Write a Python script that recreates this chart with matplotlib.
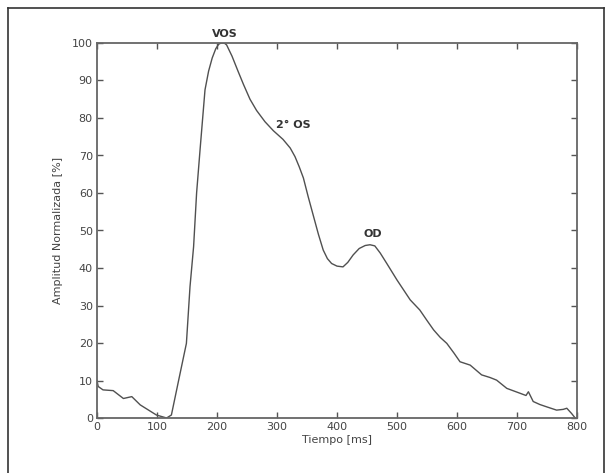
import matplotlib
matplotlib.use('agg')
import matplotlib.pyplot as plt
from matplotlib.lines import Line2D
import numpy as np

# Normalised amplitude curve
tiempo = [0, 2, 10, 27, 44, 58, 72, 99, 116, 124, 136, 149, 155, 161, 166, 172,
          180, 186, 192, 198, 203, 207, 212, 216, 225, 235, 244, 255, 266, 280,
          294, 310, 322, 330, 337, 344, 352, 361, 369, 377, 384, 391, 400, 410,
          418, 427, 437, 447, 455, 463, 472, 483, 500, 522, 538, 550, 561, 572,
          583, 595, 605, 622, 641, 655, 666, 683, 705, 715, 719, 727, 738, 749,
          766, 777, 783, 791, 797]
amplitud = [10, 8.4, 7.5, 7.3, 5.2, 5.7, 3.5, 0.8, 0.0, 0.8, 10, 19.9, 35, 45.7,
            60, 72, 87.5, 92.5, 96, 98.5, 99.7, 100, 100, 99.5, 96.5, 92.5, 89,
            85, 82, 79, 76.6, 74.3, 72, 69.7, 67, 64, 59, 53.7, 49, 44.8, 42.5,
            41.2, 40.5, 40.3, 41.5, 43.5, 45.2, 46, 46.2, 45.9, 44, 41.2, 36.8,
            31.5, 28.8, 26, 23.5, 21.5, 19.9, 17.3, 15, 14.1, 11.5, 10.8, 10.1,
            7.9, 6.6, 6.0, 7.0, 4.4, 3.6, 3.0, 2.1, 2.3, 2.6, 1.2, 0.0]

etiquetas = ['VOS', '2° OS', 'OD']
etiq_x = [213, 328, 460]
etiq_y = [102.5, 78, 49]

gris = '#555555'
plt.rcParams['font.family'] = ['DejaVu Sans']

fig = plt.figure(figsize=(6.13, 4.73), dpi=100)
ax = fig.add_axes([97/613, 55/473, 480/613, 375/473])

ax.plot(tiempo, amplitud, color='#505050', linewidth=1.0)

ax.set_xlim(0, 800)
ax.set_ylim(0, 100)
ax.set_xticks(np.arange(0, 801, 100))
ax.set_yticks(np.arange(0, 101, 10))
ax.tick_params(direction='in', top=True, right=True, length=4, width=1,
               labelsize=8, colors=gris, labelcolor='#444444', pad=3)
for s in ax.spines.values():
    s.set_color('#666666')
    s.set_linewidth(1.3)

ax.set_xlabel('Tiempo [ms]', fontsize=8, color='#444444', labelpad=2)
ax.set_ylabel('Amplitud Normalizada [%]', fontsize=8, color='#444444', labelpad=6)

for txt, tx, ty in zip(etiquetas, etiq_x, etiq_y):
    ax.text(tx, ty, txt, fontsize=8, fontweight='bold', color='#333333',
            ha='center', va='center', clip_on=False)

# outer frame (bottom edge falls outside the picture)
for xs, ys in [([8/613, 8/613], [0, 1 - 8/473]),
               ([8/613, 604/613], [1 - 8/473, 1 - 8/473]),
               ([604/613, 604/613], [0, 1 - 8/473])]:
    fig.add_artist(Line2D(xs, ys, color='#333333', linewidth=1.2))

fig.savefig('out.png', dpi=100)
